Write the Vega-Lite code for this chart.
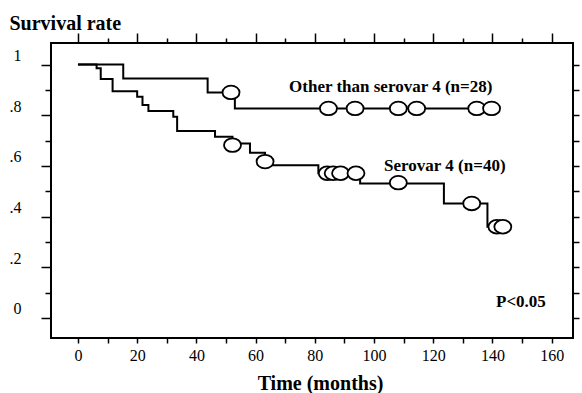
{
  "$schema": "https://vega.github.io/schema/vega-lite/v6.json",
  "width": 522,
  "height": 295,
  "autosize": {"type": "none"},
  "padding": {"left": 51, "top": 43, "right": 9, "bottom": 55},
  "background": "white",
  "config": {
    "view": {"stroke": "black", "strokeWidth": 2},
    "axis": {"grid": false, "domain": false, "tickColor": "black", "labelColor": "black", "titleColor": "black", "labelFont": "Liberation Serif", "titleFont": "Liberation Serif"}
  },
  "datasets": {
    "steps": [
      {"group": "Other", "month": 0, "rate": 1},
      {"group": "Other", "month": 15.3, "rate": 0.945},
      {"group": "Other", "month": 43.8, "rate": 0.89},
      {"group": "Other", "month": 53, "rate": 0.827},
      {"group": "Other", "month": 139.7, "rate": 0.827},
      {"group": "Serovar4", "month": 0, "rate": 1},
      {"group": "Serovar4", "month": 6.3, "rate": 0.985},
      {"group": "Serovar4", "month": 7.7, "rate": 0.943},
      {"group": "Serovar4", "month": 11.7, "rate": 0.895},
      {"group": "Serovar4", "month": 20, "rate": 0.873},
      {"group": "Serovar4", "month": 21.8, "rate": 0.84},
      {"group": "Serovar4", "month": 23.8, "rate": 0.817},
      {"group": "Serovar4", "month": 32.2, "rate": 0.794},
      {"group": "Serovar4", "month": 33.5, "rate": 0.738},
      {"group": "Serovar4", "month": 46.3, "rate": 0.715},
      {"group": "Serovar4", "month": 52.2, "rate": 0.688},
      {"group": "Serovar4", "month": 58.1, "rate": 0.652},
      {"group": "Serovar4", "month": 63.2, "rate": 0.603},
      {"group": "Serovar4", "month": 81.2, "rate": 0.571},
      {"group": "Serovar4", "month": 95.3, "rate": 0.531},
      {"group": "Serovar4", "month": 123.6, "rate": 0.452},
      {"group": "Serovar4", "month": 138.3, "rate": 0.36},
      {"group": "Serovar4", "month": 143.5, "rate": 0.36}
    ],
    "censors": [
      {"group": "Other", "month": 51.7, "rate": 0.89},
      {"group": "Other", "month": 84.6, "rate": 0.827},
      {"group": "Other", "month": 93.6, "rate": 0.827},
      {"group": "Other", "month": 108.2, "rate": 0.827},
      {"group": "Other", "month": 114.4, "rate": 0.827},
      {"group": "Other", "month": 134.7, "rate": 0.827},
      {"group": "Other", "month": 139.7, "rate": 0.827},
      {"group": "Serovar4", "month": 52.2, "rate": 0.682},
      {"group": "Serovar4", "month": 63.2, "rate": 0.617},
      {"group": "Serovar4", "month": 84.2, "rate": 0.571},
      {"group": "Serovar4", "month": 86.2, "rate": 0.571},
      {"group": "Serovar4", "month": 88.7, "rate": 0.571},
      {"group": "Serovar4", "month": 93.9, "rate": 0.571},
      {"group": "Serovar4", "month": 108.2, "rate": 0.534},
      {"group": "Serovar4", "month": 133, "rate": 0.452},
      {"group": "Serovar4", "month": 141.5, "rate": 0.36},
      {"group": "Serovar4", "month": 143.5, "rate": 0.36}
    ],
    "labels": [
      {"text": "Other than serovar 4 (n=28)", "month": 71.3, "rate": 0.91},
      {"text": "Serovar 4 (n=40)", "month": 103.4, "rate": 0.601},
      {"text": "P<0.05", "month": 141.2, "rate": 0.064}
    ]
  },
  "resolve": {"axis": {"x": "independent", "y": "independent"}},
  "layer": [
    {
      "data": {"name": "steps"},
      "mark": {"type": "line", "interpolate": "step-after", "color": "black", "strokeWidth": 2},
      "encoding": {
        "x": {"field": "month", "type": "quantitative",
          "scale": {"domain": [-9.1, 167.2], "nice": false, "zero": false},
          "axis": {"orient": "bottom", "values": [0,10,20,30,40,50,60,70,80,90,100,110,120,130,140,150,160],
            "labelExpr": "datum.value % 20 == 0 ? datum.label : ''",
            "tickSize": 5, "tickWidth": 1.5, "labelFontSize": 16, "labelPadding": 4,
            "title": "Time (months)", "titleFontSize": 20, "titleFontWeight": "bold",
            "titleX": 269, "titleY": 51, "titleBaseline": "alphabetic"}},
        "y": {"field": "rate", "type": "quantitative",
          "scale": {"domain": [-0.079, 1.085], "nice": false, "zero": false},
          "axis": {"orient": "left", "values": [0,0.1,0.2,0.3,0.4,0.5,0.6,0.7,0.8,0.9,1],
            "labelExpr": "datum.value == 1 ? '1' : datum.value == 0 ? '0' : (round(datum.value*10) % 2 == 0 ? replace(format(datum.value, '.1f'), '0.', '.') : '')",
            "tickSize": {"condition": {"test": "round(datum.value*10) % 2 == 0", "value": 10}, "value": 6},
            "tickWidth": 1.5, "labelFontSize": 16, "labelPadding": 20, "labelOffset": -9,
            "title": "Survival rate", "titleAngle": 0, "titleAlign": "left", "titleBaseline": "alphabetic",
            "titleX": -42, "titleY": -14, "titleFontSize": 20, "titleFontWeight": "bold"}},
        "detail": {"field": "group"}
      }
    },
    {
      "data": {"name": "censors"},
      "mark": {"type": "point", "shape": "M -1 0 A 1 0.8 0 1 0 1 0 A 1 0.8 0 1 0 -1 0 Z", "filled": true, "fill": "white", "stroke": "black", "strokeWidth": 1.8, "opacity": 1, "size": 289},
      "encoding": {
        "x": {"field": "month", "type": "quantitative", "axis": null},
        "y": {"field": "rate", "type": "quantitative", "axis": null}
      }
    },
    {
      "data": {"name": "labels"},
      "mark": {"type": "text", "align": "left", "baseline": "middle", "font": "Liberation Serif", "fontWeight": "bold", "fontSize": 17, "color": "black"},
      "encoding": {
        "x": {"field": "month", "type": "quantitative",
          "axis": {"orient": "top", "values": [0,10,20,30,40,50,60,70,80,90,100,110,120,130,140,150,160],
            "labels": false, "title": null,
            "tickSize": {"condition": {"test": "datum.value % 20 == 0", "value": 10}, "value": 5},
            "tickWidth": 1.5}},
        "y": {"field": "rate", "type": "quantitative",
          "axis": {"orient": "right", "values": [0,0.1,0.2,0.3,0.4,0.5,0.6,0.7,0.8,0.9,1],
            "labels": false, "title": null, "tickSize": 6, "tickWidth": 1.5}},
        "text": {"field": "text"}
      }
    }
  ]
}
